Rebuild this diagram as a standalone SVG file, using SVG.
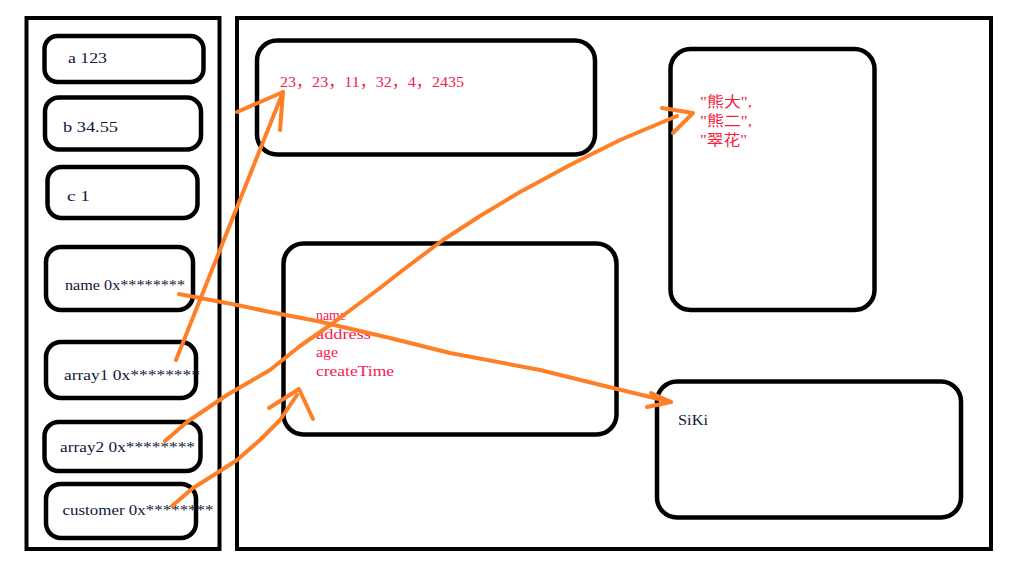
<svg xmlns="http://www.w3.org/2000/svg" width="1023" height="574" viewBox="0 0 1023 574">
<style>
.frame{fill:none;stroke:#000;stroke-width:4}
.box{fill:none;stroke:#000;stroke-width:4.5}
.t{font-family:"Liberation Serif","Noto Sans CJK SC",serif;font-size:15px;fill:#0e1838}
.r{font-family:"Liberation Serif","Noto Sans CJK SC",serif;font-size:15px;fill:#f5204f}
.cn{font-family:"Liberation Serif","Noto Sans CJK SC",serif;font-size:14.5px;fill:#f5203a}
.c{fill:none;stroke:#ff7f27;stroke-width:4;stroke-linecap:round;stroke-linejoin:round}
</style>
<rect width="1023" height="574" fill="#fff"/>
<g id="stack">
<rect class="frame" x="26.5" y="18" width="193" height="531"/>
</g>
<g id="heap">
<rect class="frame" x="237" y="18" width="754" height="531"/>
</g>
<g id="var-a">
<rect class="box" x="44.5" y="36" width="159" height="46" rx="13"/>
<text class="t" x="68" y="63" textLength="39" lengthAdjust="spacingAndGlyphs">a 123</text>
</g>
<g id="var-b">
<rect class="box" x="45" y="97.5" width="156" height="52" rx="14"/>
<text class="t" x="63" y="132" textLength="55" lengthAdjust="spacingAndGlyphs">b 34.55</text>
</g>
<g id="var-c">
<rect class="box" x="47.5" y="167" width="150" height="51" rx="14"/>
<text class="t" x="67" y="201" textLength="23" lengthAdjust="spacingAndGlyphs">c 1</text>
</g>
<g id="var-name">
<rect class="box" x="46" y="247" width="147" height="63" rx="15"/>
<text class="t" x="65" y="290" textLength="120" lengthAdjust="spacingAndGlyphs">name 0x********</text>
</g>
<g id="var-array1">
<rect class="box" x="46" y="342" width="150" height="56" rx="15"/>
<text class="t" x="64" y="380" textLength="136" lengthAdjust="spacingAndGlyphs">array1 0x********</text>
</g>
<g id="var-array2">
<rect class="box" x="44.5" y="422" width="156" height="49" rx="14"/>
<text class="t" x="60" y="452" textLength="135" lengthAdjust="spacingAndGlyphs">array2 0x********</text>
</g>
<g id="var-customer">
<rect class="box" x="46" y="484" width="150" height="54" rx="15"/>
<text class="t" x="62.5" y="515" textLength="151" lengthAdjust="spacingAndGlyphs">customer 0x********</text>
</g>
<g id="array1-obj">
<rect class="box" x="257" y="40.5" width="338" height="114" rx="20"/>
<text class="r" x="280" y="87" textLength="184" lengthAdjust="spacingAndGlyphs">23，23，11，32，4，2435</text>
</g>
<g id="array2-obj">
<rect class="box" x="670.5" y="49" width="204" height="261" rx="20"/>
<text class="cn" x="700" y="106.5" textLength="52" lengthAdjust="spacingAndGlyphs">"熊大",</text>
<text class="cn" x="700" y="125.5" textLength="52" lengthAdjust="spacingAndGlyphs">"熊二",</text>
<text class="cn" x="700" y="144.5" textLength="47" lengthAdjust="spacingAndGlyphs">"翠花"</text>
</g>
<g id="customer-obj">
<rect class="box" x="283.5" y="243.5" width="333" height="191" rx="20"/>
<text class="r" x="316" y="320" textLength="30" lengthAdjust="spacingAndGlyphs">name</text>
<text class="r" x="316" y="338.5" textLength="55" lengthAdjust="spacingAndGlyphs">address</text>
<text class="r" x="316" y="357" textLength="22" lengthAdjust="spacingAndGlyphs">age</text>
<text class="r" x="316" y="376" textLength="78" lengthAdjust="spacingAndGlyphs">createTime</text>
</g>
<g id="name-obj">
<rect class="box" x="657" y="381.5" width="304" height="136" rx="20"/>
<text class="t" x="678" y="425" textLength="30" lengthAdjust="spacingAndGlyphs">SiKi</text>
</g>
<g id="connectors">
<path class="c" d="M176,360 L283,92"/>
<path class="c" d="M237,112 Q260,102 283,92 L280,130"/>
<path class="c" d="M165,441 L187,422 L227,395 L270,370 L300,346 L333,323 L380,288 L403,270 L443,240 L480,216 L520,192 L570,165 L620,140 L677,116"/>
<path class="c" d="M662,108 L693,113 L673,133"/>
<path class="c" d="M172,506 L193,488 L217,473 L237,460 L260,440 L280,420 L297,395"/>
<path class="c" d="M269,408 Q285,398 299,389 L313,419"/>
<path class="c" d="M179,294 L200,298 L237,305 L270,312 L317,321 L390,338 L450,353 L540,370 L613,388 L671,402"/>
<path class="c" d="M651,393 L671,402 L647,407"/>
</g>
</svg>
